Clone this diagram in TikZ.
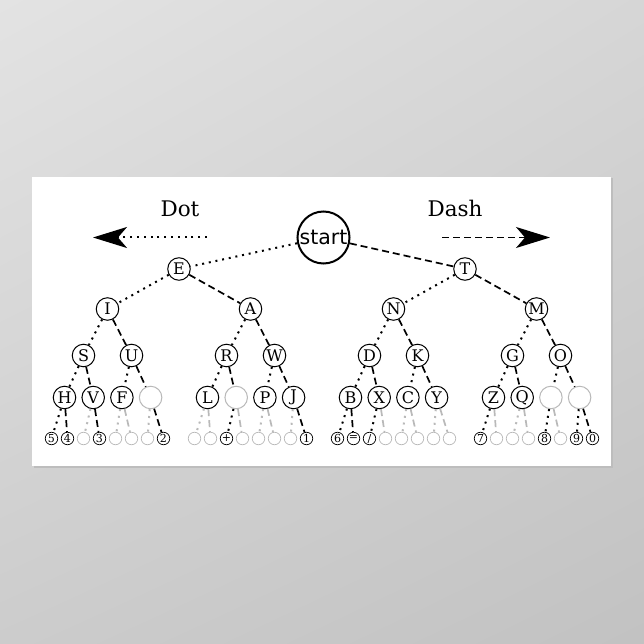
\documentclass[tikz,border=0pt]{standalone}
\usepackage{fontspec}
\setmainfont{DejaVu Serif}
\newfontfamily\startfont{DejaVu Sans}
\usetikzlibrary{positioning}
\usetikzlibrary{arrows.meta}
\usetikzlibrary{shadings}

\begin{document}
\begin{tikzpicture}[on grid,
    startnode/.style={draw,circle,line width=2pt,minimum size=52pt,inner sep=0pt,font=\startfont\fontsize{20.5}{20.5}\selectfont},
    letter/.style={draw,circle,line width=1pt,minimum size=22.5pt,inner sep=0pt,font=\fontsize{16}{16}\selectfont},
    noletter/.style={letter,draw=gray!55},
    leaf/.style={draw,circle,line width=0.7pt,minimum size=12.5pt,inner sep=0pt,font=\fontsize{11}{11}\selectfont},
    noleaf/.style={leaf,draw=gray!55},
    dirtext/.style={font=\fontsize{21.5}{21.5}\selectfont},
    dotline/.style={line width=2pt,dash pattern=on 2pt off 4.8pt},
    dashline/.style={line width=1.7pt,dash pattern=on 7pt off 4pt},
    dotgray/.style={dotline,draw=gray!55},
    dashgray/.style={dashline,draw=gray!55},
    bighead/.style={-{Stealth[length=34pt,width=21pt,inset=9pt]}}]

    % poster on the wall
    \shade[upper left=gray!22,upper right=gray!32,lower left=gray!40,lower right=gray!48] (-323.5pt,237.5pt) rectangle (320.5pt,-406.5pt);
    \fill[gray!52] (-289.5pt,59pt) rectangle (289.5pt,-230pt);
    \fill[white] (-291.5pt,60.5pt) rectangle (287.5pt,-228.5pt);

    \node[startnode] (start) at (0,0) {start};

    \coordinate[left=116.5pt of start] (dotbeg);
    \coordinate[left=230.5pt of start] (dottip);
    \coordinate[right=118.5pt of start] (dashbeg);
    \coordinate[right=226.5pt of start] (dashtip);
    \node[dirtext, above right=17.5pt and 64pt of dottip] (dottext) {Dot};
    \node[dirtext, above left=17.5pt and 64pt of dashtip] (dashtext) {Dash};

    \draw[dotline,bighead] (dotbeg) -- (dottip);
    \draw[dashline,bighead] (dashbeg) -- (dashtip);

    % letters
    \node[letter, below left=31.5pt and 144.5pt of start] (E) {E};
    \node[letter, below right=31.5pt and 141.5pt of start] (T) {T};

    \node[letter, below left=40pt and 71.5pt of E] (I) {I};
    \node[letter, below right=40pt and 71.5pt of E] (A) {A};
    \node[letter, below left=40pt and 71.5pt of T] (N) {N};
    \node[letter, below right=40pt and 71.5pt of T] (M) {M};

    \node[letter, below left=46.5pt and 24pt of I] (S) {S};
    \node[letter, below right=46.5pt and 24pt of I] (U) {U};
    \node[letter, below left=46.5pt and 24pt of A] (R) {R};
    \node[letter, below right=46.5pt and 24pt of A] (W) {W};
    \node[letter, below left=46.5pt and 24pt of N] (D) {D};
    \node[letter, below right=46.5pt and 24pt of N] (K) {K};
    \node[letter, below left=46.5pt and 24pt of M] (G) {G};
    \node[letter, below right=46.5pt and 24pt of M] (O) {O};

    \node[letter, below left=42pt and 19pt of S] (H) {H};
    \node[letter, right=28.7pt of H] (V) {V};
    \node[letter, right=28.7pt of V] (F) {F};
    \node[noletter, right=28.7pt of F] (U2) {};
    \node[letter, below left=42pt and 19pt of R] (L) {L};
    \node[noletter, right=28.7pt of L] (R2) {};
    \node[letter, right=28.7pt of R2] (P) {P};
    \node[letter, right=28.7pt of P] (J) {J};
    \node[letter, below left=42pt and 19pt of D] (B) {B};
    \node[letter, right=28.7pt of B] (X) {X};
    \node[letter, right=28.7pt of X] (C) {C};
    \node[letter, right=28.7pt of C] (Y) {Y};
    \node[letter, below left=42pt and 19pt of G] (Z) {Z};
    \node[letter, right=28.7pt of Z] (Q) {Q};
    \node[noletter, right=28.7pt of Q] (O1) {};
    \node[noletter, right=28.7pt of O1] (O2) {};

    % numbers and signs
    \node[leaf, below left=41pt and 13pt of H] (H1) {5};
    \node[leaf, right=16pt of H1] (H2) {4};
    \node[noleaf, right=16pt of H2] (V1) {};
    \node[leaf, right=16pt of V1] (V2) {3};
    \node[noleaf, right=16pt of V2] (F1) {};
    \node[noleaf, right=16pt of F1] (F2) {};
    \node[noleaf, right=16pt of F2] (U21) {};
    \node[leaf, right=16pt of U21] (U22) {2};

    \node[noleaf, below left=41pt and 13pt of L] (L1) {};
    \node[noleaf, right=16pt of L1] (L2) {};
    \node[leaf, right=16pt of L2] (R21) {+};
    \node[noleaf, right=16pt of R21] (R22) {};
    \node[noleaf, right=16pt of R22] (P1) {};
    \node[noleaf, right=16pt of P1] (P2) {};
    \node[noleaf, right=16pt of P2] (J1) {};
    \node[leaf, right=16pt of J1] (J2) {1};

    \node[leaf, below left=41pt and 13pt of B] (B1) {6};
    \node[leaf, right=16pt of B1] (B2) {=};
    \node[leaf, right=16pt of B2] (X1) {/};
    \node[noleaf, right=16pt of X1] (X2) {};
    \node[noleaf, right=16pt of X2] (C1) {};
    \node[noleaf, right=16pt of C1] (C2) {};
    \node[noleaf, right=16pt of C2] (Y1) {};
    \node[noleaf, right=16pt of Y1] (Y2) {};

    \node[leaf, below left=41pt and 13pt of Z] (Z1) {7};
    \node[noleaf, right=16pt of Z1] (Z2) {};
    \node[noleaf, right=16pt of Z2] (Q1) {};
    \node[noleaf, right=16pt of Q1] (Q2) {};
    \node[leaf, right=16pt of Q2] (O11) {8};
    \node[noleaf, right=16pt of O11] (O12) {};
    \node[leaf, right=16pt of O12] (O21) {9};
    \node[leaf, right=16pt of O21] (O22) {0};

    % dot goes left, dash goes right
    \draw[dotline] (start) -- (E);
    \draw[dashline] (start) -- (T);

    \draw[dotline] (E) -- (I);
    \draw[dashline] (E) -- (A);
    \draw[dotline] (T) -- (N);
    \draw[dashline] (T) -- (M);

    \draw[dotline] (I) -- (S);
    \draw[dashline] (I) -- (U);
    \draw[dotline] (A) -- (R);
    \draw[dashline] (A) -- (W);
    \draw[dotline] (N) -- (D);
    \draw[dashline] (N) -- (K);
    \draw[dotline] (M) -- (G);
    \draw[dashline] (M) -- (O);

    \draw[dotline] (S) -- (H);
    \draw[dashline] (S) -- (V);
    \draw[dotline] (U) -- (F);
    \draw[dashline] (U) -- (U2);
    \draw[dotline] (R) -- (L);
    \draw[dashline] (R) -- (R2);
    \draw[dotline] (W) -- (P);
    \draw[dashline] (W) -- (J);
    \draw[dotline] (D) -- (B);
    \draw[dashline] (D) -- (X);
    \draw[dotline] (K) -- (C);
    \draw[dashline] (K) -- (Y);
    \draw[dotline] (G) -- (Z);
    \draw[dashline] (G) -- (Q);
    \draw[dotline] (O) -- (O1);
    \draw[dashline] (O) -- (O2);

    \draw[dotline] (H) -- (H1);
    \draw[dashline] (H) -- (H2);
    \draw[dotgray] (V) -- (V1);
    \draw[dashline] (V) -- (V2);
    \draw[dotgray] (F) -- (F1);
    \draw[dashgray] (F) -- (F2);
    \draw[dotgray] (U2) -- (U21);
    \draw[dashline] (U2) -- (U22);

    \draw[dotgray] (L) -- (L1);
    \draw[dashgray] (L) -- (L2);
    \draw[dotline] (R2) -- (R21);
    \draw[dashgray] (R2) -- (R22);
    \draw[dotgray] (P) -- (P1);
    \draw[dashgray] (P) -- (P2);
    \draw[dotgray] (J) -- (J1);
    \draw[dashline] (J) -- (J2);

    \draw[dotline] (B) -- (B1);
    \draw[dashline] (B) -- (B2);
    \draw[dotline] (X) -- (X1);
    \draw[dashgray] (X) -- (X2);
    \draw[dotgray] (C) -- (C1);
    \draw[dashgray] (C) -- (C2);
    \draw[dotgray] (Y) -- (Y1);
    \draw[dashgray] (Y) -- (Y2);

    \draw[dotline] (Z) -- (Z1);
    \draw[dashgray] (Z) -- (Z2);
    \draw[dotgray] (Q) -- (Q1);
    \draw[dashgray] (Q) -- (Q2);
    \draw[dotline] (O1) -- (O11);
    \draw[dashgray] (O1) -- (O12);
    \draw[dotline] (O2) -- (O21);
    \draw[dashline] (O2) -- (O22);

\end{tikzpicture}
\end{document}
